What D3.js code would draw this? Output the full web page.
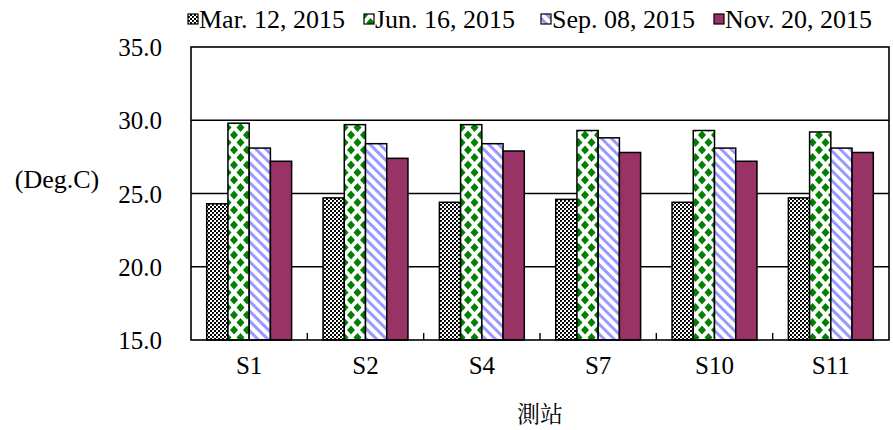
<!DOCTYPE html>
<html>
<head>
<meta charset="utf-8">
<script src="https://cdn.jsdelivr.net/npm/d3@7/dist/d3.min.js"></script>
<style>
  body { margin: 0; background: #fff; }
</style>
</head>
<body>
<svg id="chart" width="893" height="430"></svg>
<script>
const categories = ["S1", "S2", "S4", "S7", "S10", "S11"];
const seriesNames = ["Mar. 12, 2015", "Jun. 16, 2015", "Sep. 08, 2015", "Nov. 20, 2015"];
const mar = [24.3, 24.7, 24.4, 24.6, 24.4, 24.7];
const jun = [29.8, 29.7, 29.7, 29.3, 29.3, 29.2];
const sep = [28.1, 28.4, 28.4, 28.8, 28.1, 28.1];
const nov = [27.2, 27.4, 27.9, 27.8, 27.2, 27.8];
const seriesValues = [mar, jun, sep, nov];
const yTicks = [15, 20, 25, 30, 35];
const yLabel = "(Deg.C)";
const xLabel = "測站";

const SERIF = "Tinos";

const svg = d3.select("#chart");
const defs = svg.append("defs");

// Patterns
const pMar = defs.append("pattern").attr("id", "pMar").attr("patternUnits", "userSpaceOnUse")
  .attr("width", 4).attr("height", 4);
pMar.append("rect").attr("width", 4).attr("height", 4).attr("fill", "#fff");
pMar.append("rect").attr("x", 0).attr("y", 0).attr("width", 2).attr("height", 2).attr("fill", "#000");
pMar.append("rect").attr("x", 2).attr("y", 2).attr("width", 2).attr("height", 2).attr("fill", "#000");
pMar.append("rect").attr("x", 1).attr("y", 1).attr("width", 1).attr("height", 1).attr("fill", "#444");

const pJun = defs.append("pattern").attr("id", "pJun").attr("patternUnits", "userSpaceOnUse")
  .attr("width", 13).attr("height", 15);
pJun.append("rect").attr("width", 13).attr("height", 15).attr("fill", "#fff");
const dw = 4.0, dh = 4.6;
[[6.5, 7.5], [0, 0], [13, 0], [0, 15], [13, 15]].forEach(([cx, cy]) => {
  pJun.append("path")
    .attr("d", `M${cx},${cy - dh}L${cx + dw},${cy}L${cx},${cy + dh}L${cx - dw},${cy}Z`)
    .attr("fill", "#008000");
});

const pSep = defs.append("pattern").attr("id", "pSep").attr("patternUnits", "userSpaceOnUse")
  .attr("width", 8).attr("height", 7).attr("patternTransform", "rotate(45)");
pSep.append("rect").attr("width", 8).attr("height", 7).attr("fill", "#fff");
pSep.append("rect").attr("width", 8).attr("height", 3).attr("fill", "#9999ff");

const fills = ["url(#pMar)", "url(#pJun)", "url(#pSep)", "#993366"];

// Layout
const L = 191, R = 889, T = 47, B = 340;

const x0 = d3.scaleBand().domain(categories).range([L, R]).paddingInner(0).paddingOuter(0);
const x1 = d3.scaleBand().domain(d3.range(seriesNames.length)).range([0, x0.bandwidth()])
  .paddingInner(0).paddingOuter(0.74);
const y = d3.scaleLinear().domain([15, 35]).range([B, T]);

// Gridlines
svg.append("g").selectAll("line").data(yTicks.filter(t => t > 15 && t < 35)).join("line")
  .attr("x1", L).attr("x2", R)
  .attr("y1", d => y(d)).attr("y2", d => y(d))
  .attr("stroke", "#000").attr("stroke-width", 1.3);

// Bars
categories.forEach((c, ci) => {
  seriesValues.forEach((vals, si) => {
    svg.append("rect")
      .attr("x", x0(c) + x1(si))
      .attr("y", y(vals[ci]))
      .attr("width", x1.bandwidth())
      .attr("height", y(15) - y(vals[ci]))
      .attr("fill", fills[si])
      .attr("stroke", "#000")
      .attr("stroke-width", 1.5);
  });
});

// Plot frame
svg.append("rect").attr("x", L).attr("y", T).attr("width", R - L).attr("height", B - T)
  .attr("fill", "none").attr("stroke", "#000").attr("stroke-width", 1.6);

// Axes
const yAxisG = svg.append("g").attr("transform", `translate(${L},0)`)
  .call(d3.axisLeft(y).tickValues(yTicks).tickFormat(d3.format(".1f")).tickSize(0).tickPadding(29));
yAxisG.select(".domain").remove();
yAxisG.attr("font-family", SERIF).attr("font-size", 25);
yAxisG.selectAll("text").style("font-family", SERIF).style("font-size", "25px").attr("dy", "0.34em");

const xAxisG = svg.append("g").attr("transform", `translate(0,${B})`)
  .call(d3.axisBottom(x0).tickSize(0).tickPadding(16));
xAxisG.select(".domain").remove();
xAxisG.attr("font-family", SERIF).attr("font-size", 25);
xAxisG.selectAll("text").style("font-family", SERIF).style("font-size", "25px").attr("dy", "0.71em");

svg.append("g").selectAll("line").data(categories.slice(1)).join("line")
  .attr("x1", d => x0(d)).attr("x2", d => x0(d))
  .attr("y1", B).attr("y2", B - 7)
  .attr("stroke", "#000").attr("stroke-width", 1.4);

// Axis titles
svg.append("text").attr("x", 57).attr("y", 188).attr("text-anchor", "middle")
  .style("font-family", SERIF).style("font-size", "26px").text(yLabel);
svg.append("text").attr("x", 540).attr("y", 422).attr("text-anchor", "middle")
  .style("font-family", "Noto Serif CJK TC")
  .style("font-size", "23px").text(xLabel);

// Legend
const legendX = [188, 364, 541, 714];
const leg = svg.append("g");
seriesNames.forEach((n, i) => {
  leg.append("rect").attr("x", legendX[i]).attr("y", 14).attr("width", 10).attr("height", 10)
    .attr("fill", fills[i]).attr("stroke", "#000").attr("stroke-width", 1.2);
  leg.append("text").attr("x", legendX[i] + 11).attr("y", 28)
    .style("font-family", SERIF).style("font-size", "26px").text(n);
});
</script>
</body>
</html>
